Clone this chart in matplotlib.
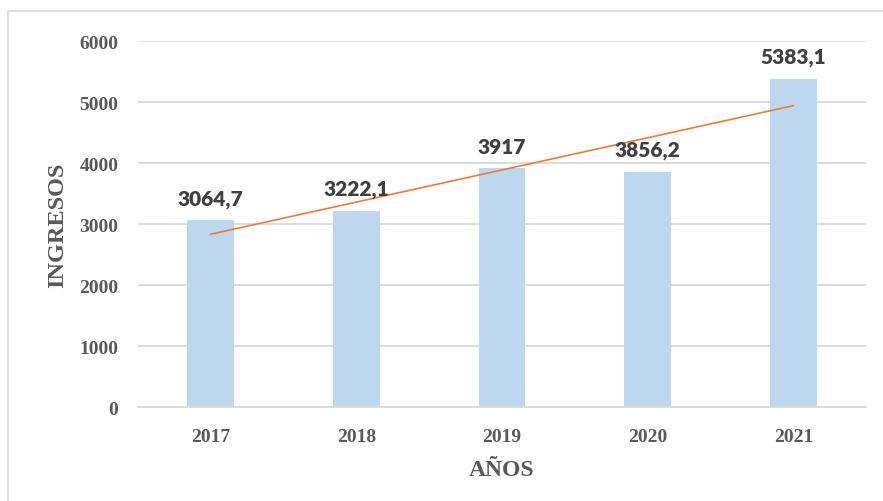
import matplotlib.pyplot as plt
import numpy as np
from matplotlib.patches import Rectangle

years = ["2017", "2018", "2019", "2020", "2021"]
ingresos = [3064.7, 3222.1, 3917, 3856.2, 5383.1]
labels = ["3064,7", "3222,1", "3917", "3856,2", "5383,1"]
yticks = [0, 1000, 2000, 3000, 4000, 5000, 6000]


def main() -> None:
    fig = plt.figure(figsize=(8.83, 5.02), dpi=100)
    ax = fig.add_axes([0.156, 0.187, 0.825, 0.729])

    x = np.arange(len(years))
    ax.bar(x, ingresos, width=0.32, color="#bdd7ee", zorder=2)

    # linear trend line
    slope, intercept = np.polyfit(x, ingresos, 1)
    ax.plot(x, slope * x + intercept, color="#ed7d31", lw=1.2, zorder=3)

    for xi, v, lab in zip(x, ingresos, labels):
        ax.annotate(lab, (xi, v), xytext=(0, 9), textcoords="offset points",
                    ha="center", va="bottom", fontsize=15, fontweight="heavy",
                    family="Lato", color="#404040", zorder=4)

    ax.set_xlim(-0.5, 4.5)
    ax.set_ylim(0, 6000)
    ax.set_xticks(x)
    ax.set_xticklabels(years)
    ax.set_yticks(yticks)
    ax.yaxis.grid(True, color="#d9d9d9", lw=1.3, zorder=0)
    ax.tick_params(length=0, pad=14, labelsize=14, labelcolor="#595959")
    for t in ax.get_xticklabels() + ax.get_yticklabels():
        t.set_family("Liberation Serif")
        t.set_fontweight("bold")
    ax.tick_params(axis="x", pad=15)
    for s in ["top", "right", "left"]:
        ax.spines[s].set_visible(False)
    ax.spines["bottom"].set_color("#d9d9d9")
    ax.spines["bottom"].set_linewidth(1.3)

    ax.set_xlabel("AÑOS", family="Liberation Serif", fontweight="bold",
                  fontsize=17, color="#595959", labelpad=10)
    ax.set_ylabel("INGRESOS", family="Liberation Serif", fontweight="bold",
                  fontsize=17.5, color="#595959", labelpad=8)

    # outer chart border
    fig.patches.append(Rectangle((8 / 883, -0.01), 1.0, 1 - 12 / 502 + 0.01,
                                 transform=fig.transFigure, fill=False,
                                 edgecolor="#d9d9d9", lw=1.2))

    fig.savefig("out.png", dpi=100)


if __name__ == "__main__":
    main()
